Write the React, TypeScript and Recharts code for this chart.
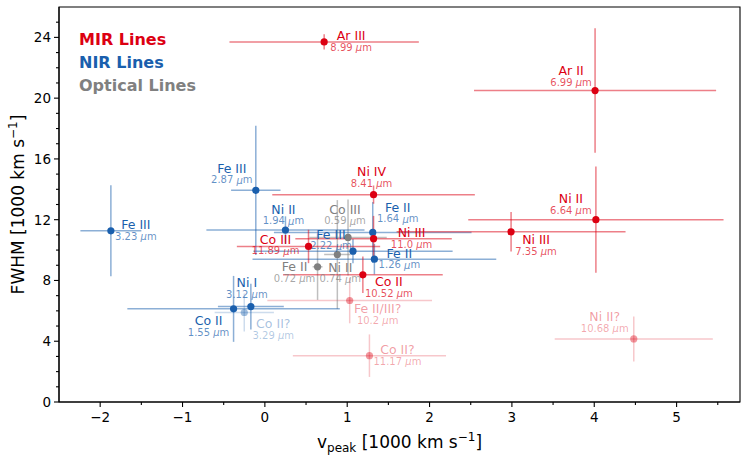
import type { FC } from 'react';

import { ErrorBar, ReferenceArea, Scatter, ScatterChart, XAxis, YAxis } from 'recharts';

// MIR lines
const mirNames = ['Ar III', 'Ar II', 'Ni II', 'Ni III', 'Ni IV', 'Ni III', 'Co III', 'Co II', 'Fe II/III?', 'Co II?', 'Ni II?'];
const mirWave = ['8.99', '6.99', '6.64', '7.35', '8.41', '11.0', '11.89', '10.52', '10.2', '11.17', '10.68'];
const mirX = [0.72, 4.01, 4.02, 2.99, 1.32, 1.32, 0.53, 1.19, 1.03, 1.27, 4.48];
const mirY = [23.7, 20.5, 12.0, 11.2, 13.65, 10.75, 10.24, 8.37, 6.68, 3.05, 4.15];
const mirXErr = [1.15, 1.47, 1.55, 1.39, 1.23, 0.95, 0.87, 0.97, 1.0, 0.93, 0.96];
const mirYErr = [0.5, 4.1, 3.5, 1.3, 0.6, 1.5, 1.1, 1.2, 1.5, 1.4, 1.48];

// NIR lines
const nirNames = ['Fe III', 'Fe III', 'Ni II', 'Fe II', 'Fe III', 'Fe II', 'Ni I', 'Co II', 'Co II?'];
const nirWave = ['3.23', '2.87', '1.94', '1.64', '2.22', '1.26', '3.12', '1.55', '3.29'];
const nirX = [-1.87, -0.11, 0.25, 1.31, 1.07, 1.33, -0.17, -0.38, -0.25];
const nirY = [11.27, 13.93, 11.32, 11.16, 9.93, 9.4, 6.28, 6.13, 5.89];
const nirXErr = [0.37, 0.3, 0.96, 1.2, 1.21, 1.48, 0.4, 1.29, 0.36];
const nirYErr = [3.0, 4.25, 0.9, 2.0, 0.8, 1.0, 1.5, 2.17, 1.25];

// optical lines
const optNames = ['Co III', 'Ni II', 'Fe II'];
const optWave = ['0.59', '0.74', '0.72'];
const optX = [1.01, 0.88, 0.64];
const optY = [10.83, 9.71, 8.9];
const optXErr = [0.47, 0.16, 0.06];
const optYErr = [2.5, 3.58, 2.18];

const xMajor = [-2, -1, 0, 1, 2, 3, 4, 5];
const xMinor = [-1.5, -0.5, 0.5, 1.5, 2.5, 3.5, 4.5, 5.5];
const yMajor = [0, 4, 8, 12, 16, 20, 24];
const yMinor = [1, 2, 3, 5, 6, 7, 9, 10, 11, 13, 14, 15, 17, 18, 19, 21, 22, 23, 25];

// label placement (px offsets of the name label from the point)
const mirLabelOffsets = [[27, -6], [-24, -20], [-25, -21], [25, 8], [-2, -23], [38, -6], [-33, -7], [26, 7], [28, 8], [28, -6], [-29, -22]];
const nirLabelOffsets = [[25, -6], [-24, -22], [-2, -21], [25, -25], [-22, -17], [25, -6], [-4, -24], [-25, 12], [29, 11]];
const optLabelOffsets = [[-3, -28], [3, 13], [-23, 0]];

const FONT = 'DejaVu Sans, sans-serif';
const RED = '220,0,18';
const BLUE = '26,95,173';
const GRAY = '128,128,128';

const build = (names: string[], wave: string[], xs: number[], ys: number[], xe: number[], ye: number[], offs: number[][]) =>
  names.map((name, i) => ({ name, wave: wave[i], x: xs[i], y: ys[i], xe: xe[i], ye: ye[i], dx: offs[i][0], dy: offs[i][1], faded: name.endsWith('?') }));

const mir = build(mirNames, mirWave, mirX, mirY, mirXErr, mirYErr, mirLabelOffsets);
const nir = build(nirNames, nirWave, nirX, nirY, nirXErr, nirYErr, nirLabelOffsets);
const opt = build(optNames, optWave, optX, optY, optXErr, optYErr, optLabelOffsets);

const makeShape = (rgb: string, faded: boolean) => (p: any) => {
  const { cx, cy, payload } = p;
  const a = faded ? 0.4 : 1;
  const lx = cx + payload.dx;
  const ly = cy + payload.dy;
  return (
    <g>
      <circle cx={cx} cy={cy} r={3.6} fill={`rgba(${rgb},${a})`} />
      <text x={lx} y={ly} textAnchor='middle' dominantBaseline='central' fontSize={12.5} fontFamily={FONT} fill={`rgba(${rgb},${faded ? 0.4 : 1})`}>
        {payload.name}
      </text>
      <text x={lx} y={ly + 11.5} textAnchor='middle' dominantBaseline='central' fontSize={10} fontFamily={FONT} fill={`rgba(${rgb},${faded ? 0.35 : 0.7})`}>
        {payload.wave + ' '}
        <tspan fontStyle='italic'>μ</tspan>m
      </text>
    </g>
  );
};

const fmt = (v: number) => (v < 0 ? '\u2212' + Math.abs(v) : String(v));

const renderXTick = (p: any) => {
  const { x, y, payload } = p;
  const major = xMajor.includes(payload.value);
  return (
    <g>
      <line x1={x} x2={x} y1={y} y2={y + (major ? 5 : 3)} stroke='#000' strokeWidth={1.1} />
      {major && (
        <text x={x} y={y + 20} textAnchor='middle' fontSize={13.5} fontFamily={FONT} fill='#000'>
          {fmt(payload.value)}
        </text>
      )}
    </g>
  );
};

const renderYTick = (p: any) => {
  const { x, y, payload } = p;
  const major = yMajor.includes(payload.value);
  return (
    <g>
      <line x1={x} x2={x - (major ? 5 : 3)} y1={y} y2={y} stroke='#000' strokeWidth={1.1} />
      {major && (
        <text x={x - 8} y={y} textAnchor='end' dominantBaseline='central' fontSize={13.5} fontFamily={FONT} fill='#000'>
          {payload.value}
        </text>
      )}
    </g>
  );
};

const series = (data: any[], rgb: string, faded: boolean, key: string) => (
  <Scatter key={key} data={data.filter((d) => d.faded === faded)} shape={makeShape(rgb, faded)} isAnimationActive={false}>
    <ErrorBar dataKey='xe' direction='x' width={0} stroke={`rgba(${rgb},${faded ? 0.22 : 0.5})`} strokeWidth={1.5} isAnimationActive={false} />
    <ErrorBar dataKey='ye' direction='y' width={0} stroke={`rgba(${rgb},${faded ? 0.22 : 0.5})`} strokeWidth={1.5} isAnimationActive={false} />
  </Scatter>
);

const App: FC = () => {
  return (
    <div style={{ position: 'absolute', left: 0, top: 0, width: 748, height: 459 }}>
      <ScatterChart width={748} height={459} margin={{ top: 7, right: 8, bottom: 0, left: 0 }}>
        <XAxis
          dataKey='x'
          type='number'
          domain={[-2.5, 5.77]}
          ticks={[...xMajor, ...xMinor].sort((a, b) => a - b)}
          interval={0}
          allowDataOverflow
          height={57}
          tick={renderXTick}
          tickLine={false}
          tickSize={0}
          tickMargin={0}
          axisLine={{ stroke: '#000', strokeWidth: 1.1 }}
          label={{
            content: (lp: any) => {
              const vb = lp.viewBox;
              return (
                <text x={vb.x + vb.width / 2} y={vb.y + 46} textAnchor='middle' fontSize={17} fontFamily={FONT} fill='#000'>
                  v<tspan fontSize={12} dy={4}>peak</tspan>
                  <tspan dy={-4}> [1000 km s</tspan>
                  <tspan fontSize={12} dy={-7}>{'\u22121'}</tspan>
                  <tspan dy={7}>]</tspan>
                </text>
              );
            },
          }}
        />
        <YAxis
          dataKey='y'
          type='number'
          domain={[0, 26]}
          ticks={[...yMajor, ...yMinor].sort((a, b) => a - b)}
          interval={0}
          allowDataOverflow
          width={59}
          tick={renderYTick}
          tickLine={false}
          tickSize={0}
          tickMargin={0}
          axisLine={{ stroke: '#000', strokeWidth: 1.1 }}
          label={{
            content: (lp: any) => {
              const vb = lp.viewBox;
              const cy = vb.y + vb.height / 2;
              return (
                <text x={24} y={cy} transform={`rotate(-90 24 ${cy})`} textAnchor='middle' fontSize={17} fontFamily={FONT} fill='#000'>
                  FWHM [1000 km s
                  <tspan fontSize={12} dy={-7}>{'\u22121'}</tspan>
                  <tspan dy={7}>]</tspan>
                </text>
              );
            },
          }}
        />
        <ReferenceArea x1={-2.5} x2={5.77} y1={0} y2={26} fill='none' stroke='#000' strokeWidth={1.1} ifOverflow='visible' />
        {series(mir, RED, true, 'mirF')}
        {series(nir, BLUE, true, 'nirF')}
        {series(opt, GRAY, false, 'opt')}
        {series(nir, BLUE, false, 'nir')}
        {series(mir, RED, false, 'mir')}
      </ScatterChart>
      <svg width={748} height={459} style={{ position: 'absolute', left: 0, top: 0, pointerEvents: 'none' }}>
        <text x={79} y={45} fontSize={16} fontWeight='bold' fontFamily={FONT} fill={`rgb(${RED})`}>MIR Lines</text>
        <text x={79} y={68} fontSize={16} fontWeight='bold' fontFamily={FONT} fill={`rgb(${BLUE})`}>NIR Lines</text>
        <text x={79} y={91} fontSize={16} fontWeight='bold' fontFamily={FONT} fill={`rgb(${GRAY})`}>Optical Lines</text>
      </svg>
    </div>
  );
};

export default App;
